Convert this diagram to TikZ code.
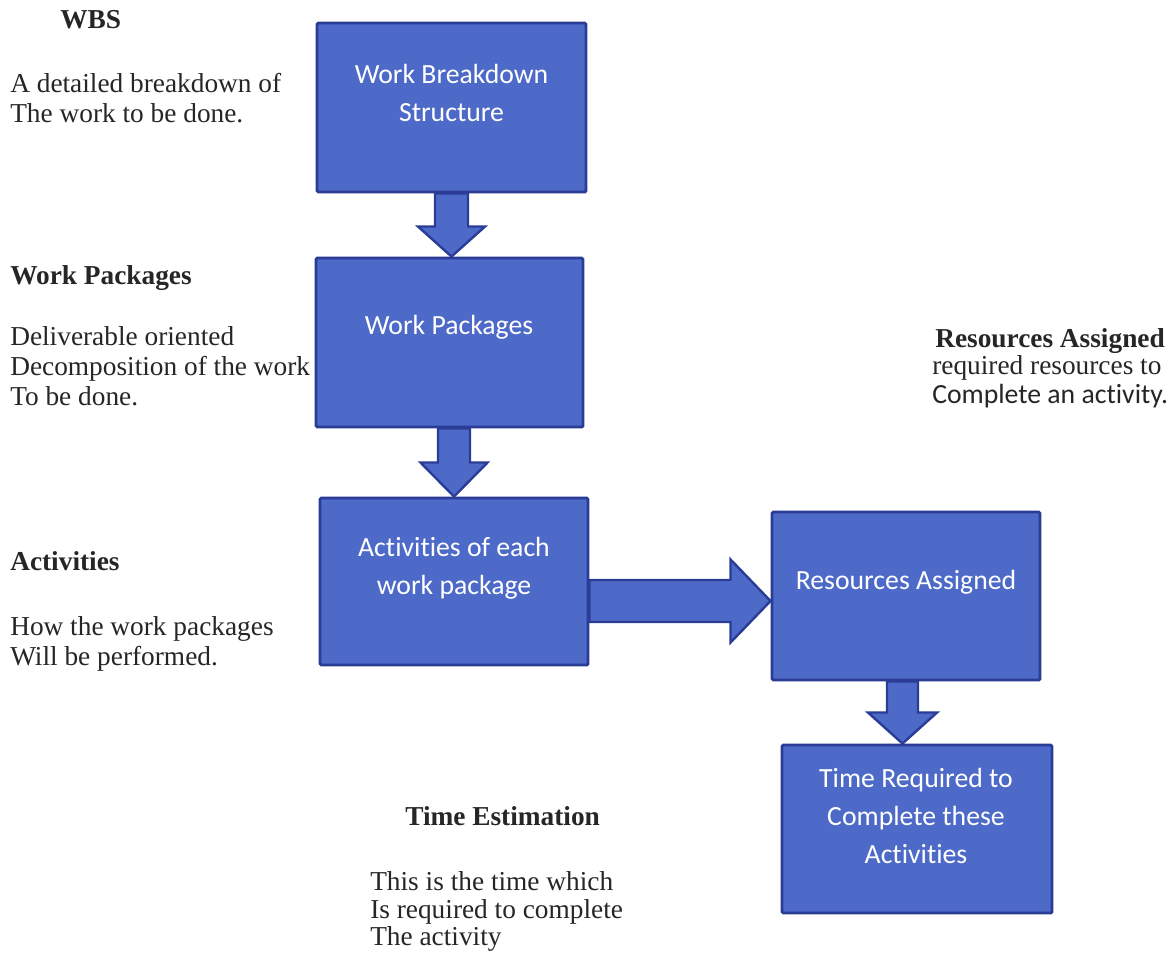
\documentclass[tikz,border=0pt]{standalone}
\usepackage{fontspec}
\setmainfont{Liberation Serif}
\newfontfamily\calfont[Ligatures=NoCommon]{Carlito}
\usetikzlibrary{calc}
\definecolor{boxfill}{RGB}{78,106,200}
\definecolor{boxline}{RGB}{42,60,150}
\newcommand{\downblk}[5]{% start, tip, half shaft, half head, head length
  \draw[barrow] ($(#1)+(-#3,0)$) -- ($(#2)+(-#3,-#5)$) -- ($(#2)+(-#4,-#5)$) -- (#2)
    -- ($(#2)+(#4,-#5)$) -- ($(#2)+(#3,-#5)$) -- ($(#1)+(#3,0)$) -- cycle;}
\newcommand{\rightblk}[5]{%
  \draw[barrow] ($(#1)+(0,-#3)$) -- ($(#2)+(-#5,-#3)$) -- ($(#2)+(-#5,-#4)$) -- (#2)
    -- ($(#2)+(-#5,#4)$) -- ($(#2)+(-#5,#3)$) -- ($(#1)+(0,#3)$) -- cycle;}
\begin{document}
\begin{tikzpicture}[x=0.75pt,y=-0.75pt,
  box/.style={draw=boxline, fill=boxfill, line width=2.2pt, rounded corners=1pt, inner sep=0pt},
  boxtxt/.style={font=\calfont\fontsize{20.8}{28.5}\selectfont, text=white, align=center, inner sep=0pt},
  barrow/.style={draw=boxline, fill=boxfill, line width=1.8pt, line join=miter},
  serif/.style={font=\fontsize{20.5}{22.5}\selectfont, anchor=base west, inner sep=0pt, text=black!85},
  head/.style={serif, font=\bfseries\fontsize{20.5}{22.5}\selectfont},
  sans/.style={serif, font=\calfont\fontsize{20.8}{22.5}\selectfont}]
\path[use as bounding box, fill=white] (0,0) rectangle (1172,957);

% boxes
\node[box, minimum width=201.75pt, minimum height=126.75pt] (b1) at (451.5,107.5) {};
\node[box, minimum width=200.25pt, minimum height=126.75pt] (b2) at (449.5,342.5) {};
\node[box, minimum width=201pt, minimum height=125.25pt] (b3) at (454,581.5) {};
\node[box, minimum width=201pt, minimum height=126pt] (b4) at (906,596) {};
\node[box, minimum width=202.5pt, minimum height=126pt] (b5) at (917,829) {};

% box texts
\node[boxtxt] (t1) at (451.5,93) {Work Breakdown\\Structure};
\node[boxtxt] (t2) at (449,327) {Work Packages};
\node[boxtxt] (t3) at (454,568) {Activities of each\\work package};
\node[boxtxt] (t4) at (906,582) {Resources Assigned};
\node[boxtxt] (t5) at (916,816) {Time Required to\\Complete these\\Activities};

% block arrows
\coordinate (a1s) at (b1.south);
\coordinate (a1t) at (a1s |- b2.north);
\downblk{a1s}{a1t}{16.5}{33.5}{30}
\coordinate (a2s) at (b3.north |- b2.south);
\coordinate (a2t) at (b3.north);
\downblk{a2s}{a2t}{16}{33.5}{34}
\coordinate (a3s) at ($(b3.east)+(0,19.5)$);
\coordinate (a3t) at (b4.west |- a3s);
\rightblk{a3s}{a3t}{21}{41.5}{40}
\coordinate (a4s) at ($(b4.south)+(-3.5,0)$);
\coordinate (a4t) at (a4s |- b5.north);
\downblk{a4s}{a4t}{15.5}{34.5}{31}

% side texts
\node[head] (h1) at (60,28) {WBS};
\node[serif] (l11) at (10,92) {A detailed breakdown of};
\node[serif] (l12) at (10,122) {The work to be done.};

\node[head] (h2) at (10,284) {Work Packages};
\node[serif] (l21) at (10,345) {Deliverable oriented};
\node[serif] (l22) at (10,375) {Decomposition of the work};
\node[serif] (l23) at (10,405) {To be done.};

\node[head] (h3) at (10,570) {Activities};
\node[serif] (l31) at (10,635) {How the work packages};
\node[serif] (l32) at (10,665) {Will be performed.};

\node[head] (h4) at (405,825) {Time Estimation};
\node[serif] (l41) at (370,890) {This is the time which};
\node[serif] (l42) at (370,918) {Is required to complete};
\node[serif] (l43) at (370,945) {The activity};

\node[head] (h5) at (935,347) {Resources Assigned};
\node[serif] (l51) at (932,374) {required resources to};
\node[sans] (l52) at (932,403) {Complete an activity.};
\end{tikzpicture}
\end{document}
